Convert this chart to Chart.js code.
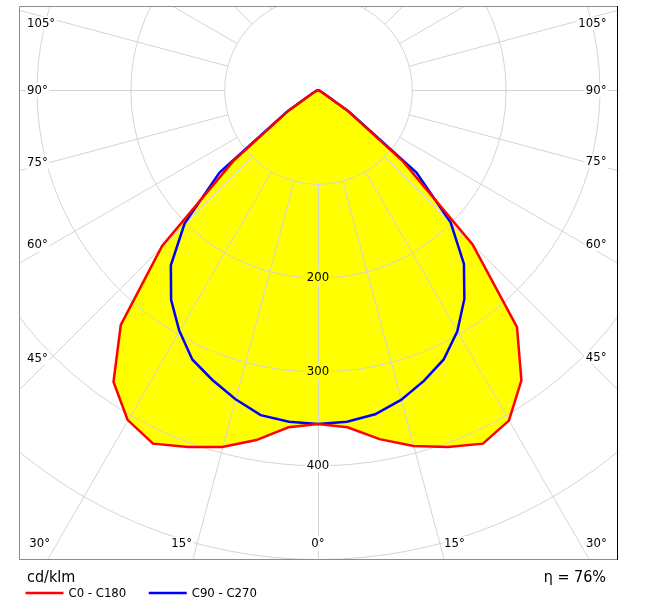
<!DOCTYPE html>
<html><head><meta charset="utf-8">
<script src="https://cdn.jsdelivr.net/npm/chart.js@4.4.1/dist/chart.umd.min.js"></script>
<style>html,body{margin:0;padding:0;background:#fff;} canvas{display:block;}</style>
</head><body>
<canvas id="c" width="647" height="606"></canvas>
<script>
// gamma angles (degrees from nadir)
const angles = [0,5,10,15,20,25,30,35,40,45,50,55,60,65,70,75,80,85,90];
// luminous intensity, cd/klm
const c0   = [356,361,378,393,405,416,407,378,330,233,118,38,5,1,0,0,0,0,0];
const c180 = [356,361,379,394,405,416,406,380,327,235,118,38,5,1,0,0,0,0,0];
const c90  = [356,355,351,342,330,317,297,272,242,200,137,40,5,1,0,0,0,0,0];
const c270 = [356,355,352,341,329,317,296,273,244,201,137,40,5,1,0,0,0,0,0];
const ringValues = [100,200,300,400,500,600];
const ringLabels = ['200','300','400'];
const angleTicks = [0,15,30,45,60,75,90,105];
const spokeStep = 15;
const unitLabel = 'cd/klm';
const efficiencyLabel = 'η = 76%';
const seriesNames = ['C0 - C180','C90 - C270'];
const seriesColors = ['#ff0000','#0000ff'];

const FONT = '"DejaVu Sans Condensed", "DejaVu Sans", sans-serif';

function planePoints(left, right){
  const pts = [];
  for (let i = angles.length-1; i >= 0; i--) {
    const a = angles[i]*Math.PI/180;
    pts.push({x: -left[i]*Math.sin(a), y: -left[i]*Math.cos(a)});
  }
  for (let i = 1; i < angles.length; i++) {
    const a = angles[i]*Math.PI/180;
    pts.push({x: right[i]*Math.sin(a), y: -right[i]*Math.cos(a)});
  }
  return pts;
}

const polarPlugin = {
  id: 'polarPlugin',
  beforeDatasetsDraw(chart){
    const {ctx, chartArea: ca, scales: {x, y}} = chart;
    const cx = x.getPixelForValue(0), cy = y.getPixelForValue(0);
    const k = (x.getPixelForValue(100) - cx) / 100;
    ctx.save();
    ctx.beginPath();
    ctx.rect(ca.left, ca.top, ca.right-ca.left, ca.bottom-ca.top);
    ctx.clip();
    // yellow fill of the C0-C180 curve
    const meta = chart.getDatasetMeta(0);
    ctx.beginPath();
    meta.data.forEach((p,i) => i ? ctx.lineTo(p.x,p.y) : ctx.moveTo(p.x,p.y));
    ctx.closePath();
    ctx.fillStyle = '#ffff00';
    ctx.fill();

    // labels
    ctx.font = '13px ' + FONT;
    const h = 11;
    const labels = [];
    ringLabels.forEach(v => {
      labels.push({text: v, x: cx, y: cy + Number(v)*k, align: 'center'});
    });
    const inL = ca.left+8, inR = ca.right-10.5, inT = ca.top+12, inB = ca.bottom-10;
    angleTicks.forEach(t => {
      const txt = t + '°';
      const w = ctx.measureText(txt).width;
      const a = t*Math.PI/180, s = Math.sin(a), c = Math.cos(a);
      if (t === 0) { labels.push({text: txt, x: cx, y: inB-h/2, align: 'center'}); return; }
      for (const side of [-1, 1]) {
        const xEdge = side < 0 ? inL + w + 2.5 : inR - w - 0.5;
        const dx = Math.abs(xEdge - cx);
        let ly = cy + dx*c/s;
        if (ly + h/2 <= inB) {
          ly = Math.max(ly, inT + h/2);
          labels.push({text: txt, x: side < 0 ? inL : inR, y: ly, align: side < 0 ? 'left' : 'right'});
        } else {
          const bx = cx + side*(inB - cy)*s/c;
          labels.push({text: txt, x: bx + side*3, y: inB - h/2, align: side < 0 ? 'right' : 'left'});
        }
      }
    });
    labels.forEach(L => {
      const w = ctx.measureText(L.text).width;
      const left = L.align === 'left' ? L.x : L.align === 'right' ? L.x - w : L.x - w/2;
      L.rx = left - 1.5; L.rw = w + 3; L.ry = L.y - h/2 - 1.5; L.rh = h + 3;
    });

    // grid with label holes
    ctx.save();
    ctx.beginPath();
    ctx.rect(ca.left, ca.top, ca.right-ca.left, ca.bottom-ca.top);
    labels.forEach(L => ctx.rect(L.rx, L.ry, L.rw, L.rh));
    ctx.clip('evenodd');
    const gx = Math.round(cx) + 0.5, gy = Math.round(cy) + 0.5;
    ctx.strokeStyle = '#d4d4d4';
    ctx.lineWidth = 1;
    ringValues.forEach(v => {
      ctx.beginPath();
      ctx.arc(gx, gy, v*k, 0, Math.PI*2);
      ctx.stroke();
    });
    const r0 = ringValues[0]*k;
    for (let d = 0; d < 360; d += spokeStep) {
      const a = d*Math.PI/180;
      const s = Math.sin(a), c = Math.cos(a);
      ctx.beginPath();
      ctx.moveTo(gx + r0*s, gy + r0*c);
      ctx.lineTo(gx + 2000*s, gy + 2000*c);
      ctx.stroke();
    }
    ctx.restore();

    ctx.fillStyle = '#000';
    ctx.textBaseline = 'middle';
    labels.forEach(L => {
      ctx.textAlign = L.align;
      ctx.fillText(L.text, L.x, L.y + 0.5);
    });
    ctx.restore();
  },
  afterDraw(chart){
    const {ctx, chartArea: ca} = chart;
    ctx.save();
    ctx.lineWidth = 1;
    ctx.strokeStyle = '#8c8c8c';
    ctx.beginPath();
    ctx.moveTo(ca.right+0.5, ca.top+0.5);
    ctx.lineTo(ca.left+0.5, ca.top+0.5);
    ctx.lineTo(ca.left+0.5, ca.bottom+0.5);
    ctx.lineTo(ca.right+0.5, ca.bottom+0.5);
    ctx.stroke();
    ctx.strokeStyle = '#000';
    ctx.beginPath();
    ctx.moveTo(ca.right+0.5, ca.top);
    ctx.lineTo(ca.right+0.5, ca.bottom+1);
    ctx.stroke();

    ctx.fillStyle = '#000';
    ctx.textBaseline = 'alphabetic';
    ctx.font = '16px ' + FONT;
    ctx.textAlign = 'left';
    ctx.fillText(unitLabel, ca.left + 8, ca.bottom + 22.5);
    ctx.textAlign = 'right';
    ctx.fillText(efficiencyLabel, ca.right - 11, ca.bottom + 22.5);

    // legend
    ctx.font = '13px ' + FONT;
    ctx.textAlign = 'left';
    ctx.textBaseline = 'middle';
    let lx = ca.left + 6.5;
    const ly = ca.bottom + 34;
    chart.data.datasets.forEach(ds => {
      ctx.strokeStyle = ds.borderColor;
      ctx.lineWidth = 2.5;
      ctx.beginPath();
      ctx.moveTo(lx, ly);
      ctx.lineTo(lx + 38, ly);
      ctx.stroke();
      ctx.fillText(ds.label, lx + 43, ly + 0.5);
      lx += 43 + ctx.measureText(ds.label).width + 22.5;
    });
    ctx.restore();
  }
};

new Chart(document.getElementById('c'), {
  type: 'scatter',
  data: {
    datasets: [
      {label: seriesNames[0], data: planePoints(c180, c0), borderColor: seriesColors[0], backgroundColor: seriesColors[0],
       showLine: true, fill: false, borderWidth: 2.5, pointRadius: 0, tension: 0},
      {label: seriesNames[1], data: planePoints(c270, c90), borderColor: seriesColors[1], backgroundColor: seriesColors[1],
       showLine: true, fill: false, borderWidth: 2.5, pointRadius: 0, tension: 0}
    ]
  },
  options: {
    responsive: false,
    devicePixelRatio: 1,
    animation: false,
    layout: {padding: {left: 19, top: 6, right: 30, bottom: 47}},
    scales: {
      x: {type: 'linear', display: false, min: -318.7, max: 318.7},
      y: {type: 'linear', display: false, min: -500, max: 89.5}
    },
    plugins: {legend: {display: false}, tooltip: {enabled: false}}
  },
  plugins: [polarPlugin]
});
</script>
</body></html>
